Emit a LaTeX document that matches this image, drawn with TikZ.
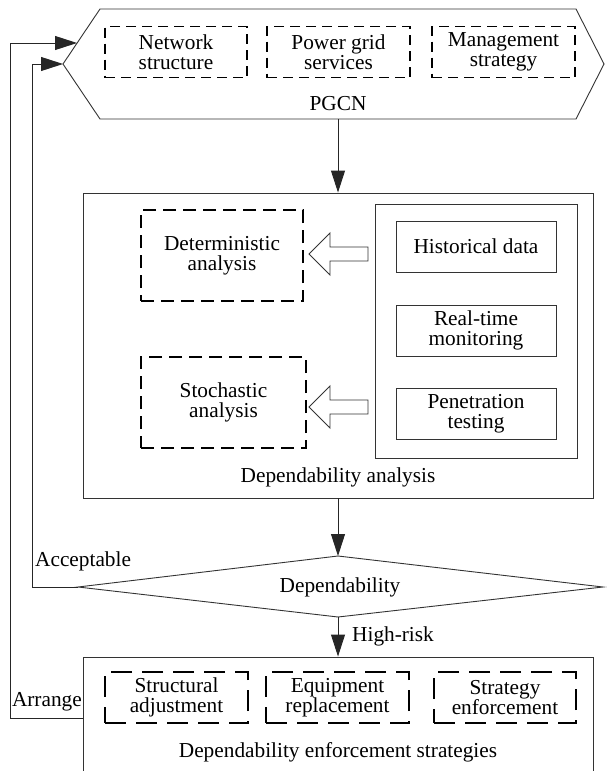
\documentclass[tikz,border=0pt]{standalone}
\usepackage{fontspec}
\setmainfont{Liberation Serif}
\usetikzlibrary{arrows.meta}
\begin{document}
\begin{tikzpicture}[x=1pt,y=-1pt,
  every node/.style={font=\fontsize{21.3}{20.5}\selectfont, align=center},
  thin line/.style={draw=black!80, line width=0.9pt},
  dbox/.style={draw=black, line width=1.8pt, dash pattern=on 10pt off 6pt, minimum height=51pt, inner sep=0pt},
  dboxm/.style={dbox, dash pattern=on 13pt off 7pt},
  dboxl/.style={dbox, dash pattern=on 21pt off 10pt},
  sbox/.style={draw=black!80, line width=0.9pt, inner sep=0pt},
  txt/.style={inner sep=0pt},
  conn/.style={draw=black!85, line width=0.9pt, -{Triangle[length=22pt,width=14pt]}},
  bigarrow/.style={draw=black!80, line width=0.9pt, fill=white}
]
\useasboundingbox (0,0) rectangle (606,771);

% PGCN hexagon
\draw[thin line] (100,9) -- (576,9) -- (604,64) -- (576,119) -- (100,119) -- (63,64) -- cycle;
\coordinate (hexbot) at (338,119);
\coordinate (hexleft) at (63,64);
\coordinate (hexup) at (77,43);
\node[dbox, minimum width=142pt] (ns) at (176,52) {Network\\structure};
\node[dbox, minimum width=143pt] (pg) at (338.5,52) {Power grid\\services};
\node[dbox, minimum width=143pt] (ms) at (503.5,52) {Management\\strategy};
\node[txt] (pgcn) at (338,104) {PGCN};

% Dependability analysis
\node[sbox, minimum width=510pt, minimum height=305pt] (da) at (338,345.5) {};
\node[txt] (datxt) at (338,477) {Dependability analysis};
\node[dboxm, minimum width=162pt, minimum height=91pt] (det) at (222,255.5) {Deterministic\\analysis};
\node[dboxm, minimum width=165pt, minimum height=91pt] (sto) at (223.5,402.5) {Stochastic\\analysis};
\node[sbox, minimum width=202pt, minimum height=254pt] (inner) at (476,331) {};
\node[sbox, minimum width=160pt, minimum height=51pt] (hist) at (476,246.5) {Historical data};
\node[sbox, minimum width=160pt, minimum height=51pt] (rt) at (476,330.5) {Real-time\\monitoring};
\node[sbox, minimum width=160pt, minimum height=51pt] (pen) at (476,413.5) {Penetration\\testing};

% hollow block arrows
\foreach \yy in {254,407}{
  \draw[bigarrow] (368,\yy-7) -- (330,\yy-7) -- (330,\yy-21) -- (309,\yy) -- (330,\yy+21) -- (330,\yy+7) -- (368,\yy+7) -- cycle;
}

% Diamond
\coordinate (dtop) at (338,556);
\coordinate (dbot) at (338,617);
\coordinate (dleft) at (78,587);
\coordinate (dright) at (603,587);
\draw[thin line] (dleft) -- (dtop) -- (dright) -- (dbot) -- cycle;
\node[txt] (dep) at (340,587) {Dependability};

% Enforcement strategies
\node[sbox, minimum width=510pt, minimum height=116pt] (enf) at (338,715) {};
\node[txt] (enftxt) at (338,752) {Dependability enforcement strategies};
\node[dboxl, minimum width=143pt] (sa) at (176.5,697.5) {Structural\\adjustment};
\node[dboxl, minimum width=143pt] (er) at (337.5,697.5) {Equipment\\replacement};
\node[dboxl, minimum width=142pt] (se) at (505,697.5) {Strategy\\enforcement};

% connectors
\draw[conn] (hexbot) -- (da.north);
\draw[conn] (da.south) -- (dtop);
\draw[conn] (dbot) -- (enf.north);
\node[txt, anchor=west] (hr) at (352,636) {High-risk};
\draw[conn] (dleft) -- (32,587) -- (32,64) -- (hexleft);
\node[txt, anchor=west] (acc) at (35,561) {Acceptable};
\coordinate (enfl) at (83,718);
\draw[conn] (enfl) -- (10,718) -- (10,43) -- (hexup);
\node[txt, anchor=east] (arr) at (82,702) {Arrange};
\end{tikzpicture}
\end{document}
